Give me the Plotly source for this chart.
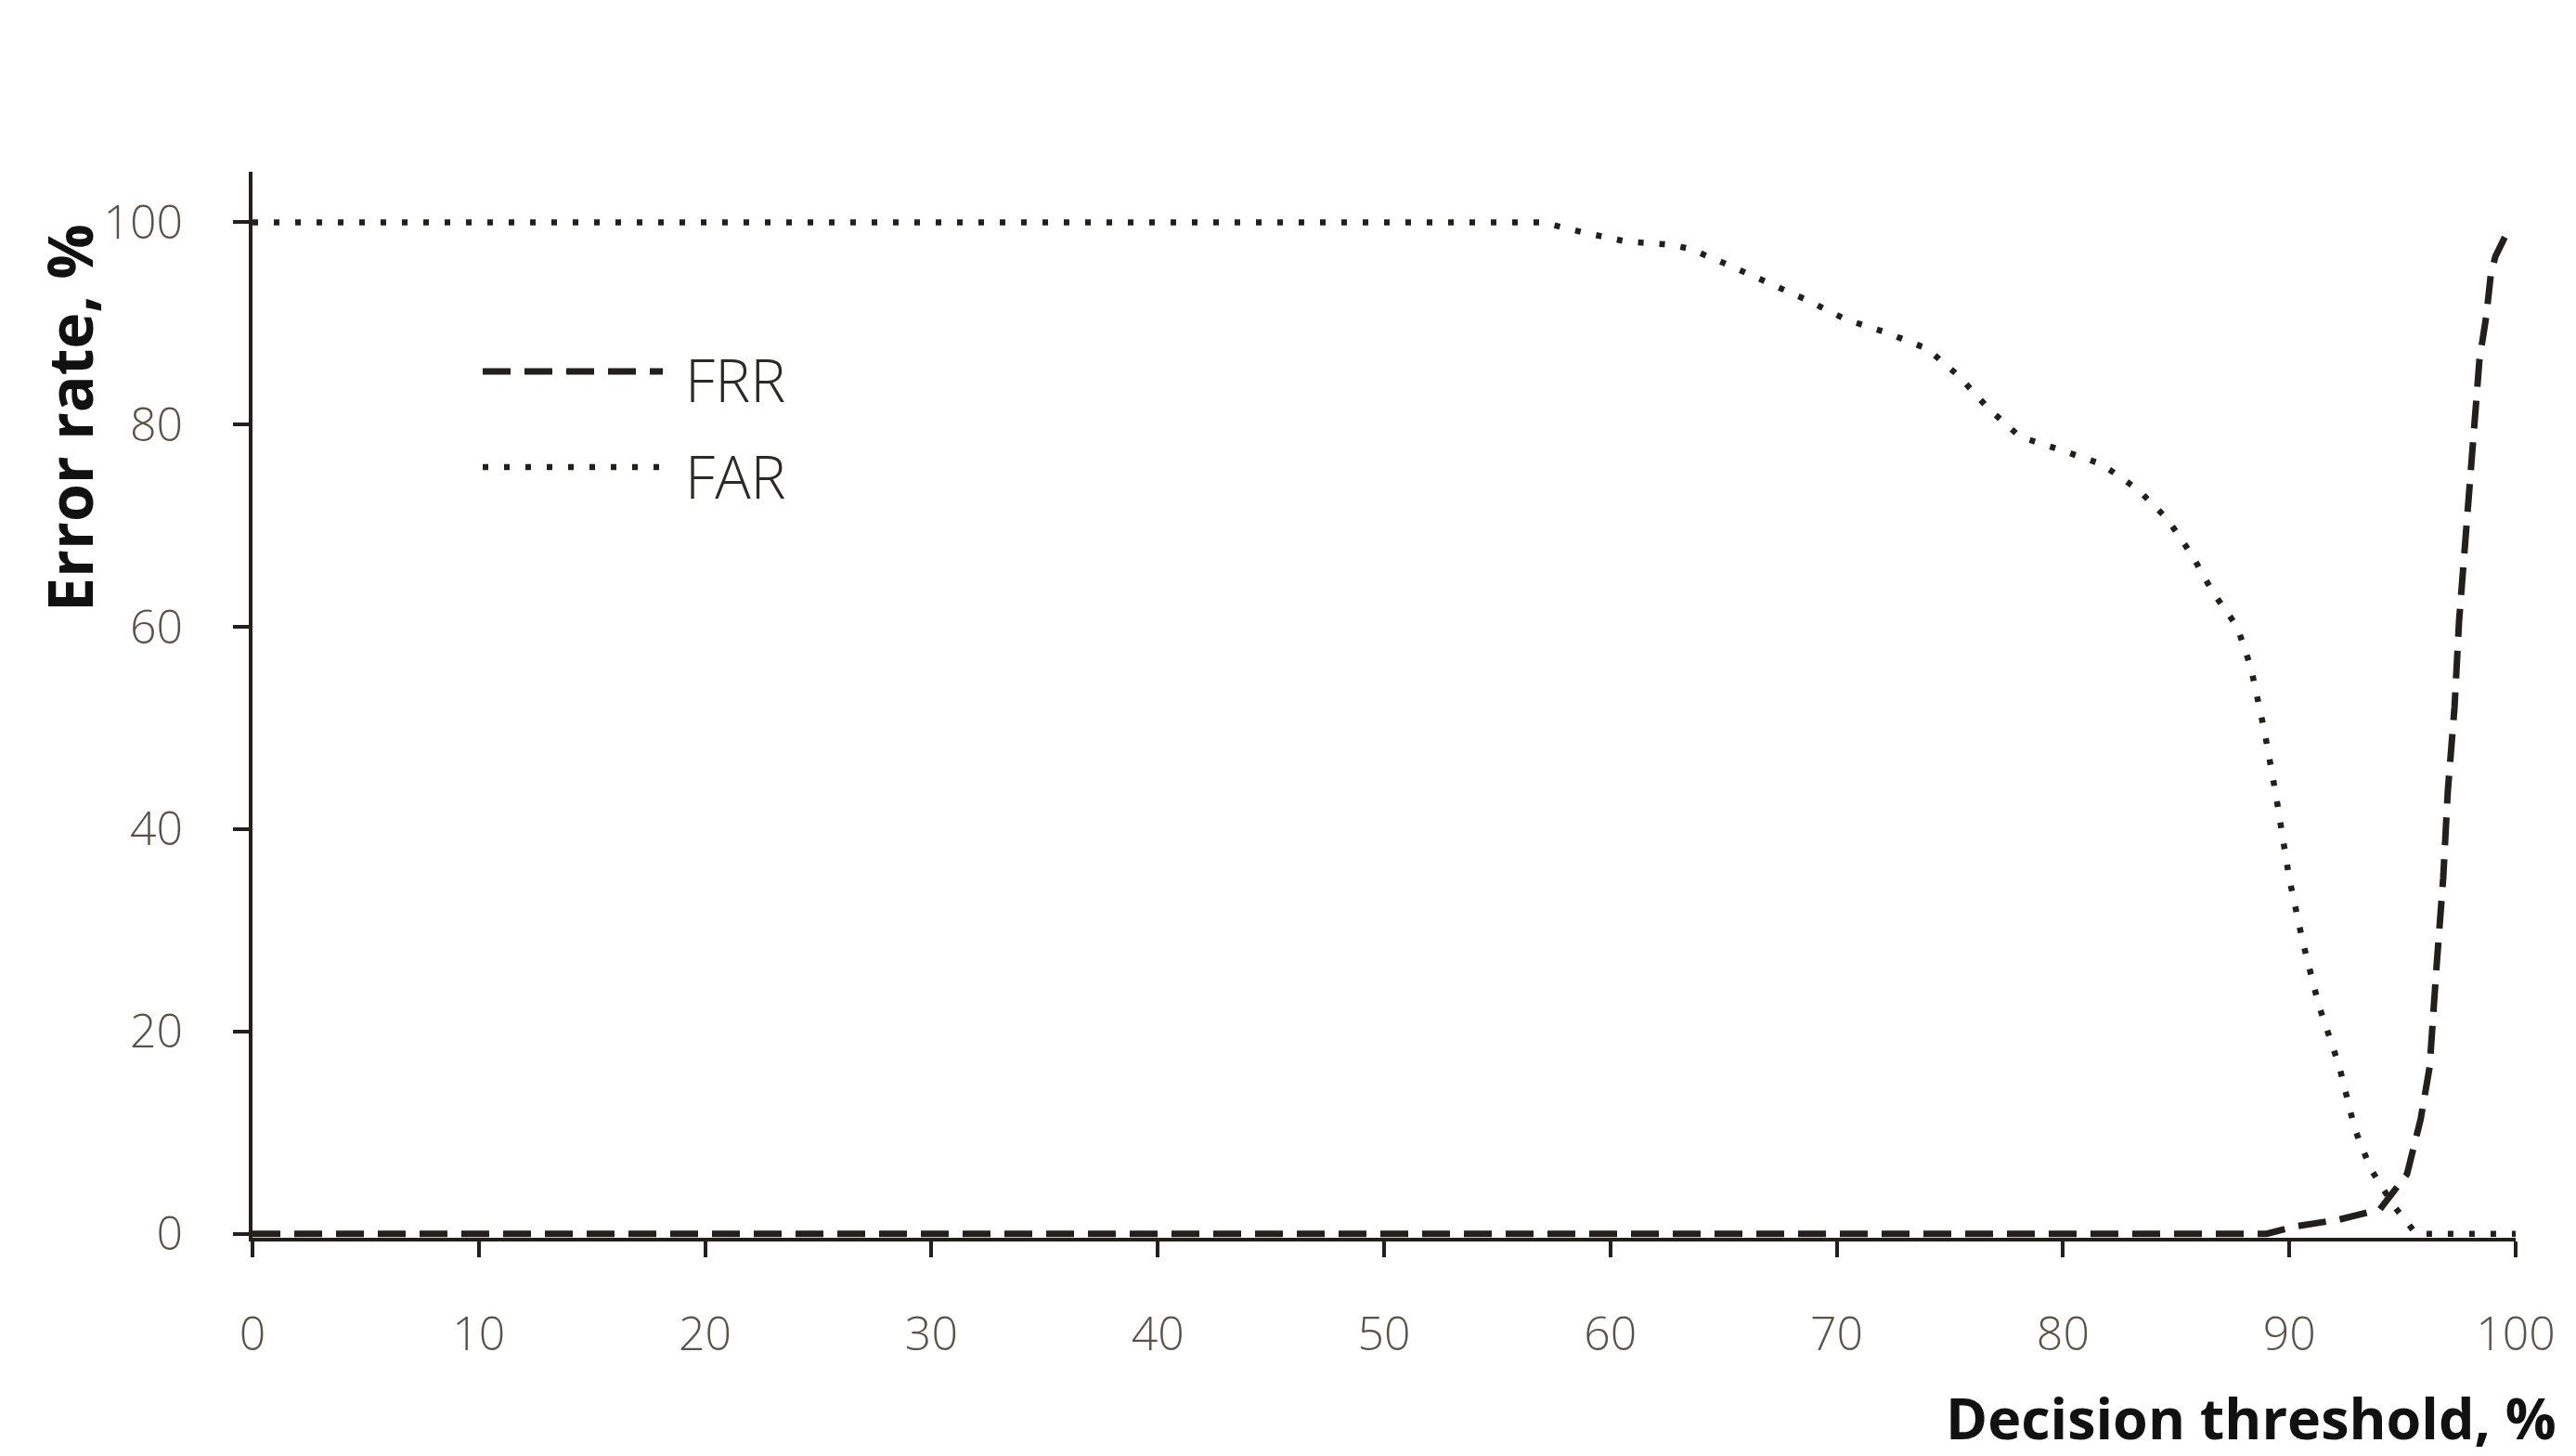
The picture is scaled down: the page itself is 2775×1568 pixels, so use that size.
import plotly.graph_objects as go

# ---------------- data ----------------
far_x = [0, 57.0, 58.8, 60.7, 62.6, 63.5, 65.3, 67.0, 68.7, 70.4, 72.2, 74.0, 75.4,
         76.7, 78.1, 79.9, 81.7, 83.3, 84.6, 85.7, 86.6, 87.7, 88.3, 88.9, 89.4,
         90.0, 90.6, 91.3, 92.2, 92.9, 93.6, 94.6, 95.2, 95.6, 100]
far_y = [100, 100, 99.0, 98.1, 97.8, 97.4, 95.7, 94.0, 92.3, 90.4, 89.1, 87.5, 84.8,
         81.6, 78.8, 77.5, 76.1, 73.6, 70.7, 67.1, 63.5, 60.0, 56.0, 49.7, 43.5,
         35.1, 28.8, 22.6, 16.6, 10.3, 6.4, 2.8, 1.2, 0, 0]

frr_x = [0, 89.0, 90.2, 92.2, 94.0, 94.5, 95.2, 95.8, 96.2, 96.5, 96.8, 97.0, 97.3,
         97.5, 97.8, 98.0, 98.2, 98.4, 98.7, 98.9, 99.1, 99.6]
frr_y = [0, 0, 0.7, 1.4, 2.4, 3.8, 5.9, 11.3, 16.5, 26.3, 35.2, 43.7, 52.1,
         60.6, 69.5, 75.4, 82.1, 86.4, 90.7, 94.8, 96.6, 98.9]

x_ticks = [0, 10, 20, 30, 40, 50, 60, 70, 80, 90, 100]
y_ticks = [0, 20, 40, 60, 80, 100]
series_names = ["FRR", "FAR"]
x_title = "Decision threshold, %"
y_title = "Error rate, %"

# ---------------- layout constants ----------------
W, H = 2775, 1568
ML, MR, MT, MB = 264, 73, 177, 243
INK = "#231f1a"
TICK_COLOR = "#5b5247"
FRR_DASH = "30px,15px"
FAR_DASH = "6px,17px"

def px_x(p):
    return (p - ML) / (W - ML - MR)

def px_y(p):
    return (H - MB - p) / (H - MT - MB)

fig = go.Figure()
fig.add_trace(go.Scatter(x=frr_x, y=frr_y, mode="lines", name=series_names[0],
                         line=dict(color=INK, width=7, dash=FRR_DASH),
                         showlegend=False))
fig.add_trace(go.Scatter(x=far_x, y=far_y, mode="lines", name=series_names[1],
                         line=dict(color=INK, width=6.5, dash=FAR_DASH),
                         showlegend=False))

# manual legend
leg = [(series_names[0], 392, 400, FRR_DASH, 7, 706),
       (series_names[1], 495, 504, FAR_DASH, 6.5, 704)]
for name, ly, ty, dash, w, x1 in leg:
    fig.add_shape(type="line", xref="paper", yref="paper",
                  x0=px_x(512), x1=px_x(x1), y0=px_y(ly), y1=px_y(ly),
                  line=dict(color=INK, width=w, dash=dash))
    fig.add_annotation(xref="paper", yref="paper", x=px_x(728), y=px_y(ty),
                       xanchor="left", yanchor="middle", showarrow=False, text=name,
                       font=dict(family="Open Sans", size=64, color="#2d2925", weight=300))

# axis titles
fig.add_annotation(xref="paper", yref="paper", x=px_x(2748), y=px_y(1562),
                   xanchor="right", yanchor="bottom", showarrow=False, text=x_title,
                   font=dict(family="Open Sans", size=61, color="#111111", weight="bold"))
fig.add_annotation(xref="paper", yref="paper", x=px_x(66), y=px_y(442),
                   xanchor="center", yanchor="middle", showarrow=False, text=y_title,
                   textangle=-90,
                   font=dict(family="Open Sans", size=66, color="#111111", weight="bold"))

axis_common = dict(showgrid=False, zeroline=False, showline=True, linecolor=INK,
                   linewidth=4, ticks="outside", ticklen=17, tickwidth=4, tickcolor=INK,
                   automargin=False,
                   tickfont=dict(family="Open Sans", size=50, color=TICK_COLOR, weight=300))

fig.update_layout(
    width=W, height=H,
    margin=dict(l=ML, r=MR, t=MT, b=MB),
    paper_bgcolor="white", plot_bgcolor="white",
    xaxis=dict(range=[0, 100], tickvals=x_ticks, ticktext=[str(v) for v in x_ticks],
               ticklabelstandoff=40, **axis_common),
    yaxis=dict(range=[-0.4, 105], tickvals=y_ticks, ticktext=[str(v) for v in y_ticks],
               ticklabelstandoff=44, **axis_common),
)

fig.write_html("out.html")
